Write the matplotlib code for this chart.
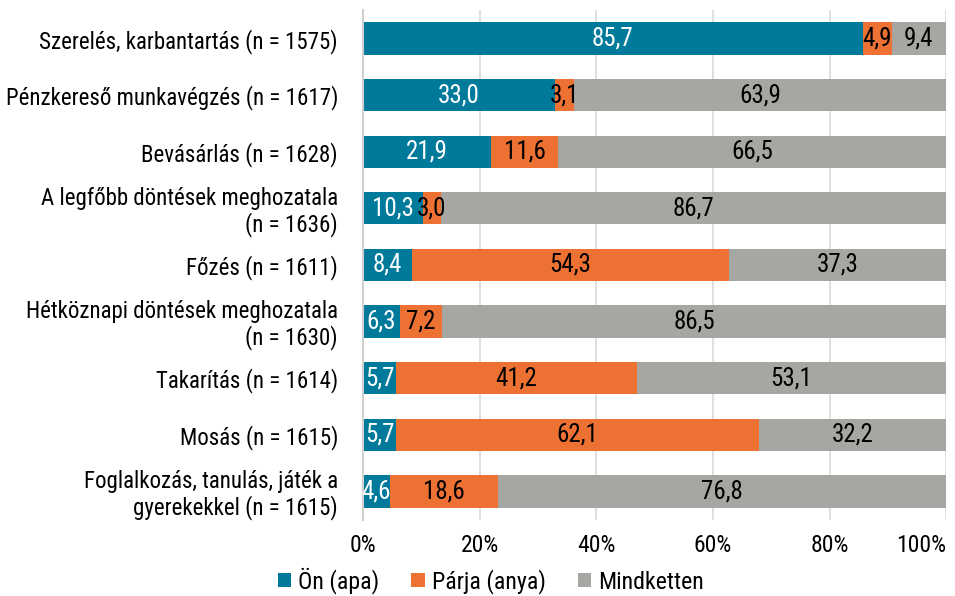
import matplotlib
matplotlib.use("Agg")
import matplotlib.pyplot as plt
from matplotlib import font_manager as fm

names = {f.name for f in fm.fontManager.ttflist}
fam = [f for f in ["Roboto Condensed", "Roboto", "DejaVu Sans"] if f in names]
plt.rcParams['font.family'] = fam

categories = [
    "Szerelés, karbantartás (n = 1575)",
    "Pénzkereső munkavégzés (n = 1617)",
    "Bevásárlás (n = 1628)",
    "A legfőbb döntések meghozatala\n(n = 1636)",
    "Főzés (n = 1611)",
    "Hétköznapi döntések meghozatala\n(n = 1630)",
    "Takarítás (n = 1614)",
    "Mosás (n = 1615)",
    "Foglalkozás, tanulás, játék a\ngyerekekkel (n = 1615)",
]
on_apa = [85.7, 33.0, 21.9, 10.3, 8.4, 6.3, 5.7, 5.7, 4.6]
parja_anya = [4.9, 3.1, 11.6, 3.0, 54.3, 7.2, 41.2, 62.1, 18.6]
mindketten = [9.4, 63.9, 66.5, 86.7, 37.3, 86.5, 53.1, 32.2, 76.8]
series_names = ["Ön (apa)", "Párja (anya)", "Mindketten"]
ticks = [0, 20, 40, 60, 80, 100]
tick_labels = ["0%", "20%", "40%", "60%", "80%", "100%"]

colors = ["#007a9b", "#ed7133", "#a6a6a2"]
txtcolors = ["white", "black", "black"]

fig = plt.figure(figsize=(9.55, 5.96), dpi=100)
ax = fig.add_axes([0.380, 0.128, 0.611, 0.855])
ax.set_axisbelow(True)
ax.grid(axis="x", color="#d9d9d9", linewidth=1.2)

y = list(range(len(categories)))
left = [0.0] * len(categories)
for vals, col, tc, name in zip([on_apa, parja_anya, mindketten], colors, txtcolors, series_names):
    ax.barh(y, vals, left=left, height=0.57, color=col, label=name, zorder=2)
    for yi, l, v in zip(y, left, vals):
        ax.text(l + v / 2, yi, f"{v:.1f}".replace(".", ","), ha="center", va="center",
                color=tc, fontsize=18, zorder=3)
    left = [a + b for a, b in zip(left, vals)]

ax.set_ylim(len(categories) - 0.5, -0.5)
ax.set_xlim(0, 100)
ax.set_yticks(y)
ax.set_yticklabels(categories, fontsize=16.5, linespacing=1.1)
ax.set_xticks(ticks)
ax.set_xticklabels(tick_labels, fontsize=17)
xl = ax.get_xticklabels()
xl[-1].set_ha("right")
xl[-1].set_x(100)
ax.tick_params(axis="both", length=0)
ax.tick_params(axis="y", pad=18)
ax.tick_params(axis="x", pad=10)
for s in ["top", "right", "bottom"]:
    ax.spines[s].set_visible(False)
ax.spines["left"].set_color("#d0d0d0")
ax.spines["left"].set_linewidth(1.5)

leg = fig.legend(loc="lower center", bbox_to_anchor=(0.514, -0.033), ncol=3, frameon=False,
                 fontsize=17.2, handlelength=0.55, handleheight=0.55, handletextpad=0.3,
                 columnspacing=1.35)

fig.savefig("out.png", dpi=100)
